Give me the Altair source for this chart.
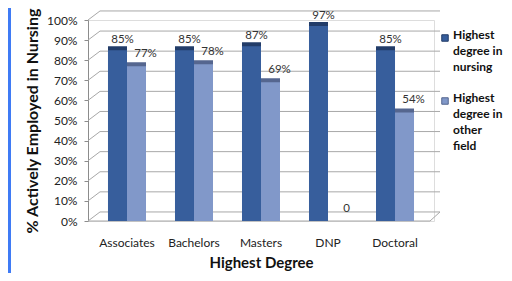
import altair as alt
import pandas as pd

categories = ["Associates", "Bachelors", "Masters", "DNP", "Doctoral"]
nursing = [85, 85, 87, 97, 85]
other = [77, 78, 69, 0, 54]
nursing_labels = ["85%", "85%", "87%", "97%", "85%"]
other_labels = ["77%", "78%", "69%", "0", "54%"]
series = ["Highest degree in nursing", "Highest degree in other field"]
legend_lines = ["Highest\ndegree in\nnursing", "Highest\ndegree in\nother\nfield"]
y_ticks = [0, 10, 20, 30, 40, 50, 60, 70, 80, 90, 100]

FONT = "Lato"
W, H = 346, 201
front_colors = ["#375E9C", "#8198C9"]
side_colors = ["#223C68", "#55668F"]
GRID = "#A8A8A8"

rows = []
for i, c in enumerate(categories):
    rows.append(dict(cat=c, series=series[0], value=nursing[i], label=nursing_labels[i]))
    rows.append(dict(cat=c, series=series[1], value=other[i], label=other_labels[i]))
df = pd.DataFrame(rows)
grid_df = pd.DataFrame({"v": y_ticks})

x_enc = alt.X(
    "cat:N", sort=categories,
    scale=alt.Scale(paddingInner=0, paddingOuter=0.082),
    axis=alt.Axis(title="Highest Degree", labelAngle=0, ticks=False, domain=False,
                  labelPadding=16, titlePadding=7, labelFont=FONT, labelFontSize=12,
                  labelColor="#222222", titleFont=FONT, titleFontSize=15,
                  titleFontWeight="bold", titleColor="#111111"),
)
xoff = alt.XOffset("series:N", sort=series, scale=alt.Scale(paddingInner=0, paddingOuter=0.763))
y_scale = alt.Scale(domain=[0, 100], nice=False)
y_axis = alt.Axis(title="% Actively Employed in Nursing", values=y_ticks,
                  labelExpr="datum.value + '%'", grid=False, domainColor="#8C8C8C",
                  tickColor="#8C8C8C", tickSize=4, labelPadding=7, labelFont=FONT,
                  labelFontSize=12, labelColor="#222222", titleFont=FONT,
                  titleFontSize=16, titleFontWeight="bold", titleColor="#111111",
                  titlePadding=6)
y_enc = alt.Y("value:Q", scale=y_scale, axis=y_axis)

base = alt.Chart(df)

grid_back = alt.Chart(grid_df).transform_calculate(vb="datum.v + 4.5").mark_rule(
    color=GRID, strokeWidth=1
).encode(y=alt.Y("vb:Q", scale=y_scale, axis=y_axis), x=alt.value(12), x2=alt.value(W + 6))

grid_side = alt.Chart(grid_df).transform_calculate(vb="datum.v + 4.5").mark_rule(
    color=GRID, strokeWidth=1
).encode(y=alt.Y("v:Q", scale=y_scale, axis=y_axis), y2="vb:Q", x=alt.value(0), x2=alt.value(12))

floor_df = pd.DataFrame({"v": [0]})
floor_front = alt.Chart(floor_df).mark_rule(color=GRID, strokeWidth=1).encode(
    y=alt.Y("v:Q", scale=y_scale, axis=y_axis), x=alt.value(0), x2=alt.value(W - 4)
)
floor_side = alt.Chart(floor_df).transform_calculate(vb="datum.v + 4.5").mark_rule(
    color=GRID, strokeWidth=1
).encode(y=alt.Y("v:Q", scale=y_scale, axis=y_axis), y2="vb:Q", x=alt.value(W - 4), x2=alt.value(W + 6))

shadow = base.mark_bar(xOffset=4, yOffset=-4).encode(
    x=x_enc, xOffset=xoff, y=y_enc,
    color=alt.Color("series:N", scale=alt.Scale(domain=series, range=side_colors), legend=None),
)
front = base.mark_bar().encode(
    x=x_enc, xOffset=xoff, y=y_enc,
    fill=alt.Fill("series:N", scale=alt.Scale(domain=series, range=front_colors), legend=None),
)

lab_n = base.transform_filter(alt.datum.series == series[0]).mark_text(
    font=FONT, fontSize=11.5, color="#333333", dx=5, dy=-10, baseline="middle"
).encode(x=x_enc, xOffset=xoff, y=y_enc, text="label:N")
lab_o = base.transform_filter(alt.datum.series == series[1]).mark_text(
    font=FONT, fontSize=11.5, color="#333333", dx=9, dy=-12, baseline="middle"
).encode(x=x_enc, xOffset=xoff, y=y_enc, text="label:N")

stripe = alt.Chart(floor_df).mark_rect(color="#3F7BF5").encode(
    x=alt.value(-80), x2=alt.value(-77), y=alt.value(-12), y2=alt.value(H + 52)
)

legend_layers = []
leg_y = [18, 81]
for i in range(2):
    ldf = pd.DataFrame({"series": [series[i]], "txt": [legend_lines[i]]})
    legend_layers.append(
        alt.Chart(ldf).mark_square(size=42, opacity=1, color=front_colors[i],
                                   stroke=side_colors[i], strokeWidth=1).encode(
            x=alt.value(W + 11), y=alt.value(leg_y[i]))
    )
    legend_layers.append(
        alt.Chart(ldf).mark_text(font=FONT, fontSize=12, fontWeight="bold", color="#111111",
                                 align="left", baseline="top", lineBreak="\n",
                                 lineHeight=16).encode(
            x=alt.value(W + 19), y=alt.value(leg_y[i] - 8), text="txt:N")
    )

chart = alt.layer(
    stripe, grid_back, grid_side, floor_front, floor_side, shadow, front, lab_n, lab_o,
    *legend_layers
).resolve_scale(color="independent").properties(
    width=W, height=H,
    autosize=alt.AutoSizeParams(type="none"),
    padding={"left": 80, "top": 12, "right": 70, "bottom": 52},
).configure_view(stroke=None).configure(background="white")

chart.save("out.html", embed_options={"renderer": "svg", "actions": False})
